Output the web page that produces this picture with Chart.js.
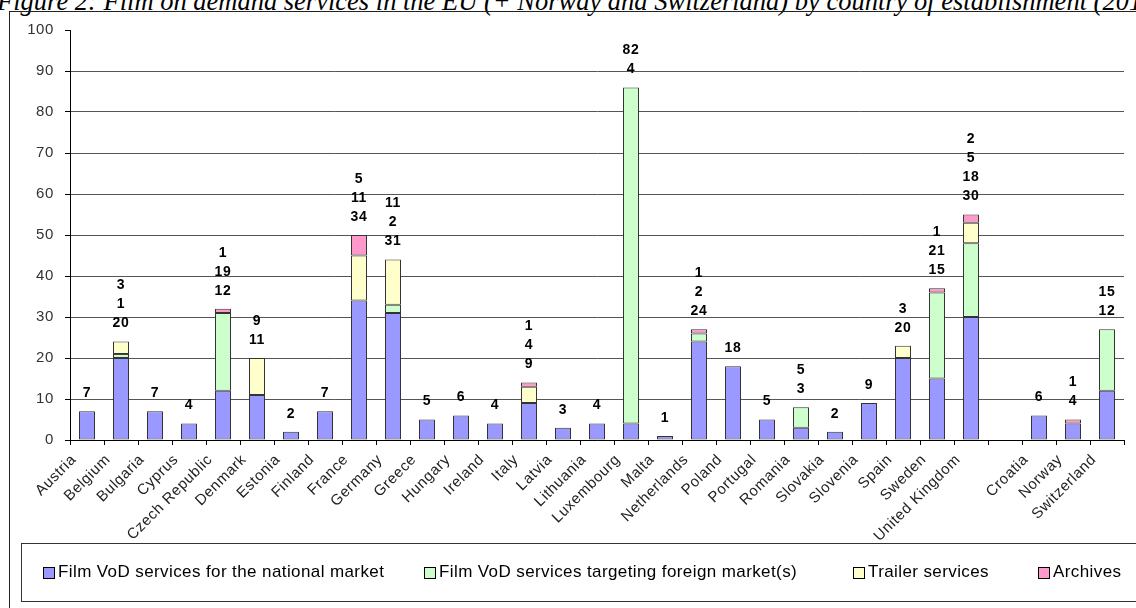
<!DOCTYPE html>
<html>
<head>
<meta charset="utf-8">
<script src="https://cdn.jsdelivr.net/npm/chart.js@4.4.0/dist/chart.umd.min.js"></script>
<style>
  body { margin: 0; width: 1136px; height: 608px; overflow: hidden; background: #fff; position: relative; font-family: "Liberation Sans", Arial, sans-serif; }
  #title { position: absolute; left: -3px; top: -12px; font: italic 26.5px/26px "Liberation Serif", serif; white-space: nowrap; color: #000; }
  #frame { position: absolute; left: 9px; top: 11px; width: 1300px; height: 700px; border-left: 1px solid #222; border-top: 1px solid #222; }
  #legendBox { position: absolute; left: 21px; top: 543px; width: 1300px; height: 57px; border: 1px solid #333; border-right: none; }
  .sw { position: absolute; top: 567px; width: 10px; height: 10px; border: 1px solid #000; }
  .lt { position: absolute; top: 562px; font-size: 17px; line-height: 20px; letter-spacing: 0.4px; color: #000; white-space: nowrap; }
  canvas { position: absolute; left: 0; top: 0; }
</style>
</head>
<body>
<div id="title">Figure 2: Film on demand services in the EU (+ Norway and Switzerland) by country of establishment (2011)</div>
<div id="frame"></div>
<canvas id="chart" width="1136" height="608"></canvas>
<div id="legendBox"></div>
<div class="sw" style="left:43px;background:#9999ff"></div><div class="lt" style="left:58px">Film VoD services for the national market</div>
<div class="sw" style="left:424px;background:#ccffcc"></div><div class="lt" style="left:439px">Film VoD services targeting foreign market(s)</div>
<div class="sw" style="left:853px;background:#ffffcc"></div><div class="lt" style="left:868px">Trailer services</div>
<div class="sw" style="left:1038px;background:#ff99cc"></div><div class="lt" style="left:1053px">Archives</div>
<script>
const countries = ['Austria', 'Belgium', 'Bulgaria', 'Cyprus', 'Czech Republic', 'Denmark', 'Estonia', 'Finland',
  'France', 'Germany', 'Greece', 'Hungary', 'Ireland', 'Italy', 'Latvia', 'Lithuania', 'Luxembourg', 'Malta',
  'Netherlands', 'Poland', 'Portugal', 'Romania', 'Slovakia', 'Slovenia', 'Spain', 'Sweden', 'United Kingdom',
  '', 'Croatia', 'Norway', 'Switzerland'];
const nationalMarket = [7, 20, 7, 4, 12, 11, 2, 7, 34, 31, 5, 6, 4, 9, 3, 4, 4, 1, 24, 18, 5, 3, 2, 9, 20, 15, 30, 0, 6, 4, 12];
const foreignMarkets = [0, 1, 0, 0, 19, 0, 0, 0, 0, 2, 0, 0, 0, 0, 0, 0, 82, 0, 2, 0, 0, 5, 0, 0, 0, 21, 18, 0, 0, 0, 15];
const trailerServices = [0, 3, 0, 0, 0, 9, 0, 0, 11, 11, 0, 0, 0, 4, 0, 0, 0, 0, 0, 0, 0, 0, 0, 0, 3, 0, 5, 0, 0, 0, 0];
const archives = [0, 0, 0, 0, 1, 0, 0, 0, 5, 0, 0, 0, 0, 1, 0, 0, 0, 0, 1, 0, 0, 0, 0, 0, 0, 1, 2, 0, 0, 1, 0];
const yTicks = [0, 10, 20, 30, 40, 50, 60, 70, 80, 90, 100];

const series = [
  { label: 'Film VoD services for the national market', values: nationalMarket, color: '#9999ff' },
  { label: 'Film VoD services targeting foreign market(s)', values: foreignMarkets, color: '#ccffcc' },
  { label: 'Trailer services', values: trailerServices, color: '#ffffcc' },
  { label: 'Archives', values: archives, color: '#ff99cc' }
];

// the pdf text is spaced out a bit, so widen all canvas text
const spacing = {
  id: 'spacing',
  beforeDraw(chart) { chart.ctx.letterSpacing = '0.6px'; },
  afterDraw(chart) { chart.ctx.letterSpacing = '0px'; }
};

// stacked labels above each column, bottom segment first
const stackLabels = {
  id: 'stackLabels',
  afterDatasetsDraw(chart) {
    const ctx = chart.ctx;
    const y = chart.scales.y;
    const meta = chart.getDatasetMeta(0);
    ctx.save();
    ctx.letterSpacing = '0.6px';
    ctx.font = 'bold 14px "Liberation Sans", Arial, sans-serif';
    ctx.fillStyle = '#000';
    ctx.textAlign = 'center';
    ctx.textBaseline = 'middle';
    countries.forEach((c, i) => {
      const vals = series.map(s => s.values[i]).filter(v => v > 0);
      if (!vals.length) return;
      const total = vals.reduce((a, b) => a + b, 0);
      const top = y.getPixelForValue(total);
      const x = meta.data[i].x;
      vals.forEach((v, k) => {
        ctx.fillText(String(v), x, top - 18 - k * 19);
      });
    });
    ctx.restore();
  }
};

new Chart(document.getElementById('chart'), {
  type: 'bar',
  data: {
    labels: countries,
    datasets: series.map(s => ({
      label: s.label,
      data: s.values.map(v => v > 0 ? v : null),
      backgroundColor: s.color,
      borderColor: '#333',
      borderWidth: 1,
      borderSkipped: false,
      barPercentage: 0.47,
      categoryPercentage: 1
    }))
  },
  options: {
    responsive: false,
    animation: false,
    devicePixelRatio: 1,
    layout: { padding: { left: 0, right: 12, top: 30, bottom: 68 } },
    plugins: { legend: { display: false }, tooltip: { enabled: false } },
    scales: {
      x: {
        stacked: true,
        afterFit: s => { s.height = 100; },
        border: { color: '#000', width: 1 },
        grid: { offset: true, drawOnChartArea: false, tickLength: 5, color: '#000' },
        ticks: {
          autoSkip: false,
          maxRotation: 45,
          minRotation: 45,
          labelOffset: -13,
          padding: 6,
          color: '#222',
          font: { family: '"Liberation Sans", Arial, sans-serif', size: 15 }
        }
      },
      y: {
        stacked: true,
        min: 0,
        max: 100,
        afterFit: s => { s.width = 70; },
        afterBuildTicks: s => { s.ticks = yTicks.map(v => ({ value: v })); },
        border: { color: '#000', width: 1 },
        grid: {
          color: c => (c.tick && c.tick.value === 100) ? 'rgba(0,0,0,0)' : '#555',
          tickColor: '#000',
          tickLength: 5
        },
        ticks: {
          padding: 11,
          color: '#333',
          font: { family: '"Liberation Sans", Arial, sans-serif', size: 15 }
        }
      }
    }
  },
  plugins: [spacing, stackLabels]
});
</script>
</body>
</html>
